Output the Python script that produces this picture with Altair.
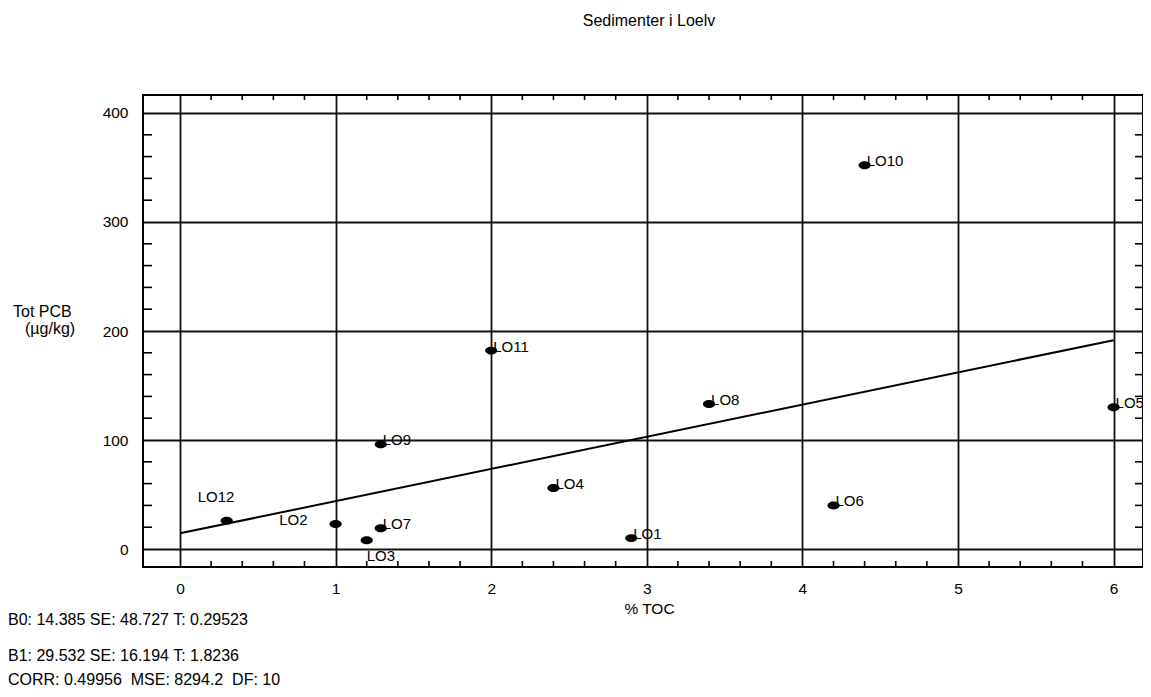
import altair as alt
import pandas as pd

FONT = "Liberation Sans"

chart_title = "Sedimenter i Loelv"
x_title = "% TOC"
y_title_lines = ["Tot PCB", "(µg/kg)"]

sites = ["LO1", "LO2", "LO3", "LO4", "LO5", "LO6", "LO7", "LO8", "LO9", "LO10", "LO11", "LO12"]
toc = [2.9, 1.0, 1.2, 2.4, 6.0, 4.2, 1.29, 3.4, 1.29, 4.4, 2.0, 0.3]
pcb = [10, 23, 8, 56, 130, 40, 19, 133, 96, 352, 182, 26]

b0 = 14.385
b1 = 29.532
fit_x = [0, 6]

stats_lines = [
    "B0: 14.385 SE: 48.727 T: 0.29523",
    "B1: 29.532 SE: 16.194 T: 1.8236",
    "CORR: 0.49956\u00a0 MSE: 8294.2\u00a0 DF: 10",
]

x_ticks = [0, 1, 2, 3, 4, 5, 6]
y_ticks = [0, 100, 200, 300, 400]
x_minor = [round(i * 0.2, 1) for i in range(1, 30) if i % 5]
y_minor = [v for v in range(20, 400, 20) if v % 100]

# layout (plot area 143..1143 x 95..567 on the page)
W, H = 1000, 472
stats_y = [525, 561, 585]
y_title_pos = [(-130, 217), (-118, 234)]

pts = pd.DataFrame({"site": sites, "toc": toc, "pcb": pcb})
fit = pd.DataFrame({"toc": fit_x, "pcb": [b0 + b1 * v for v in fit_x]})
xm = pd.DataFrame({"xm": x_minor})
ym = pd.DataFrame({"ym": y_minor})

xs = alt.Scale(domain=[-0.2378, 6.189], nice=False, zero=False)
ys = alt.Scale(domain=[-16.5, 416.5], nice=False, zero=False)

x_axis = alt.Axis(
    values=x_ticks, title=x_title, labelPadding=14, labelBaseline="top",
    titleX=506, titleY=41, titleBaseline="middle", titleAlign="center",
)
y_axis = alt.Axis(values=y_ticks, title=None, labelPadding=15)

def X(field):
    return alt.X(field, scale=xs, axis=x_axis)

def Y(field):
    return alt.Y(field, scale=ys, axis=y_axis)

ellipse = "M-1,0 A1,0.65 0 1,0 1,0 A1,0.65 0 1,0 -1,0 Z"

points = alt.Chart(pts).mark_point(
    shape=ellipse, filled=True, color="#000", opacity=1, size=150
).encode(x=X("toc:Q"), y=Y("pcb:Q"))

line = alt.Chart(fit).mark_line(color="#000", strokeWidth=2).encode(
    x=X("toc:Q"), y=Y("pcb:Q")
)

bottom_ticks = alt.Chart(xm).mark_rule(color="#000", strokeWidth=1.6).encode(
    x=X("xm:Q"), y=alt.value(H), y2=alt.value(H - 6)
)
top_ticks = alt.Chart(xm).mark_rule(color="#000", strokeWidth=1.6).encode(
    x=X("xm:Q"), y=alt.value(0), y2=alt.value(5)
)
left_ticks = alt.Chart(ym).mark_rule(color="#000", strokeWidth=1.6).encode(
    y=Y("ym:Q"), x=alt.value(0), x2=alt.value(9)
)
right_ticks = alt.Chart(ym).mark_rule(color="#000", strokeWidth=1.6).encode(
    y=Y("ym:Q"), x=alt.value(W), x2=alt.value(W - 8)
)

def label_layer(filter_expr, align, dx, dy):
    return alt.Chart(pts).transform_filter(filter_expr).mark_text(
        align=align, baseline="middle", dx=dx, dy=dy,
        font=FONT, fontSize=15, color="#000"
    ).encode(x=X("toc:Q"), y=Y("pcb:Q"), text="site:N")

labels_main = label_layer(
    "datum.site != 'LO12' && datum.site != 'LO2' && datum.site != 'LO3'", "left", 2, -4
)
label_lo12 = label_layer("datum.site == 'LO12'", "left", -29, -24)
label_lo2 = label_layer("datum.site == 'LO2'", "right", -28, -4)
label_lo3 = label_layer("datum.site == 'LO3'", "left", 0, 16)

def free_text(txt, x, y, size, align="left"):
    return alt.Chart(pd.DataFrame({"t": [txt]})).mark_text(
        align=align, baseline="middle", font=FONT, fontSize=size, color="#000"
    ).encode(x=alt.value(x), y=alt.value(y), text="t:N")

stats_layers = [free_text(t, -135, yy, 16) for t, yy in zip(stats_lines, stats_y)]
ytitle_layers = [free_text(t, px, py, 16) for t, (px, py) in zip(y_title_lines, y_title_pos)]

chart = alt.layer(
    points, line, bottom_ticks, top_ticks, left_ticks, right_ticks,
    labels_main, label_lo12, label_lo2, label_lo3,
    *ytitle_layers, *stats_layers
).properties(
    width=W, height=H,
    title=alt.TitleParams(
        chart_title, font=FONT, fontSize=16, fontWeight="normal", color="#000",
        anchor="middle", baseline="middle", offset=57, dx=6,
    ),
    autosize=alt.AutoSizeParams(type="none"),
    padding={"left": 135, "top": 87, "right": 0, "bottom": 130},
    background="white",
).configure_view(
    stroke="#000", strokeWidth=2
).configure_axis(
    grid=True, gridColor="#111", gridWidth=1.8,
    ticks=False, tickSize=0, domain=False,
    labelFont=FONT, labelFontSize=15.5, labelColor="#000",
    titleFont=FONT, titleFontSize=15.5, titleFontWeight="normal", titleColor="#000",
)

chart.save("out.html", embed_options={"renderer": "svg", "actions": False})
